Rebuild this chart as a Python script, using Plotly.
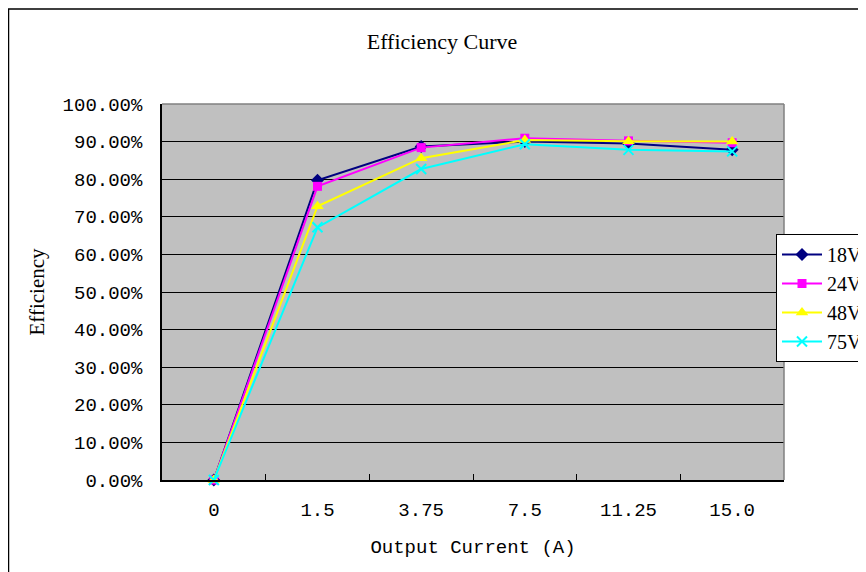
import plotly.graph_objects as go

categories = ["0", "1.5", "3.75", "7.5", "11.25", "15.0"]
series_names = ["18V", "24V", "48V", "75V"]
eff_18v = [0.0, 0.797, 0.887, 0.900, 0.895, 0.878]
eff_24v = [0.0, 0.781, 0.884, 0.909, 0.902, 0.897]
eff_48v = [0.0, 0.728, 0.856, 0.904, 0.901, 0.900]
eff_75v = [0.0, 0.672, 0.827, 0.893, 0.878, 0.874]
y_ticks = [0.0, 0.1, 0.2, 0.3, 0.4, 0.5, 0.6, 0.7, 0.8, 0.9, 1.0]

styles = [
    dict(color="#000080", symbol="diamond", size=10),
    dict(color="#FF00FF", symbol="square", size=9),
    dict(color="#FFFF00", symbol="triangle-up", size=11),
    dict(color="#00FFFF", symbol="x-thin", size=10),
]

fig = go.Figure()
for name, vals, st in zip(series_names, [eff_18v, eff_24v, eff_48v, eff_75v], styles):
    marker = dict(color=st["color"], symbol=st["symbol"], size=st["size"])
    if st["symbol"] == "x-thin":
        marker["line"] = dict(color=st["color"], width=2)
    fig.add_trace(go.Scatter(
        x=categories, y=vals, name=name, mode="lines+markers",
        line=dict(color=st["color"], width=2),
        marker=marker, cliponaxis=False,
    ))

tick_font = dict(family="Liberation Mono", size=19, color="black")
serif = "Liberation Serif"

# page offset of 8px (body margin) compensated in figure coordinates
L, T, PW, PH = 154, 96, 622, 376
W, H = 866, 572

fig.update_layout(
    width=W, height=H,
    margin=dict(l=L, r=W - L - PW, t=T, b=H - T - PH, autoexpand=False),
    paper_bgcolor="white",
    plot_bgcolor="#C0C0C0",
    title=dict(text="Efficiency Curve", x=(442 - 8) / W, xanchor="center",
               y=1 - (41 - 8) / H, yanchor="middle",
               font=dict(family=serif, size=22, color="black")),
    xaxis=dict(
        type="category", range=[-0.5, 5.5], tickson="boundaries",
        ticks="inside", ticklen=6, tickcolor="black",
        showgrid=False, showline=True, linecolor="black", linewidth=1.5,
        tickfont=tick_font, ticklabelstandoff=11, automargin=False,
        title=dict(text="Output Current (A)", font=tick_font, standoff=19),
        zeroline=False, fixedrange=True,
    ),
    yaxis=dict(
        range=[0, 1], tickvals=y_ticks, tickformat=".2%",
        ticks="inside", ticklen=5, tickcolor="black",
        showgrid=True, gridcolor="black", gridwidth=1,
        showline=True, linecolor="black", linewidth=1.5,
        tickfont=tick_font, ticklabelstandoff=14, automargin=False,
        title=dict(text="Efficiency", font=dict(family=serif, size=21, color="black"), standoff=12),
        zeroline=False, fixedrange=True,
    ),
    legend=dict(
        x=(776 - 8 - L) / PW, y=(T + PH - (234 - 8)) / PH, xanchor="left", yanchor="top",
        bgcolor="white", bordercolor="black", borderwidth=1,
        font=dict(family=serif, size=20, color="black"),
        tracegroupgap=0, itemwidth=40,
    ),
    showlegend=True,
    shapes=[
        dict(type="line", xref="paper", yref="paper", x0=0, x1=1, y0=1, y1=1,
             line=dict(color="#808080", width=1.5), layer="above"),
        dict(type="line", xref="paper", yref="paper", x0=1, x1=1, y0=0, y1=1,
             line=dict(color="#808080", width=1.5), layer="above"),
        dict(type="rect", xref="paper", yref="paper",
             x0=(0.5 - L) / PW, x1=(W + 20 - L) / PW,
             y0=(T + PH - (H + 20)) / PH, y1=(T + PH - 1) / PH,
             line=dict(color="black", width=1.5), fillcolor="rgba(0,0,0,0)", layer="below"),
    ],
)

fig.write_html("out.html")
